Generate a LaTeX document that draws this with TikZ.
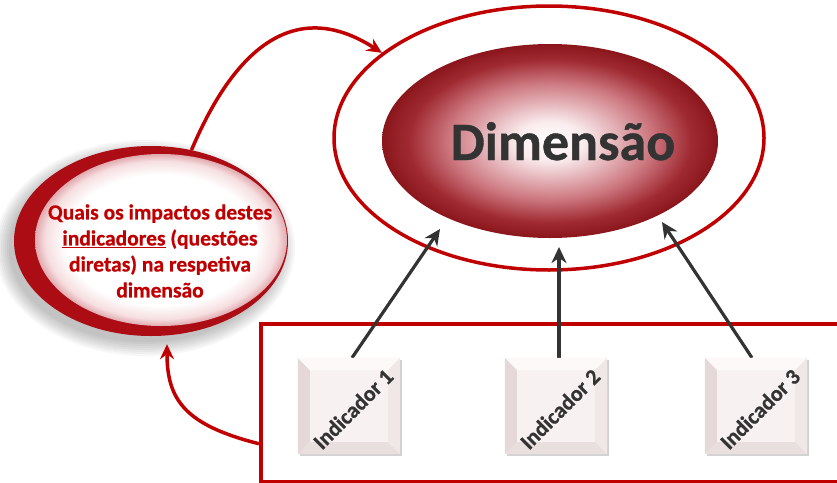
\documentclass[tikz,border=0pt]{standalone}
\usepackage{fontspec}
\setmainfont{Carlito}[BoldFeatures={FakeBold=0.7}]
\usetikzlibrary{shapes.geometric,arrows.meta,calc,shadows}
\definecolor{dred}{RGB}{192,0,0}
\definecolor{rimred}{RGB}{172,12,20}
\definecolor{dgrey}{RGB}{51,51,51}
\definecolor{sA}{RGB}{250,236,238}
\definecolor{sB}{RGB}{205,120,128}
\definecolor{sC}{RGB}{160,42,50}
\definecolor{sD}{RGB}{138,22,28}
\definecolor{qA}{RGB}{246,222,224}
\definecolor{qB}{RGB}{225,170,175}
\definecolor{bxC}{RGB}{248,241,241}
\definecolor{bxL}{RGB}{228,216,216}
\definecolor{bxT}{RGB}{253,249,249}
\definecolor{bxR}{RGB}{240,231,231}
\definecolor{bxB}{RGB}{234,223,223}
\pgfdeclareradialshading{dimshade}{\pgfpoint{0bp}{0bp}}{color(0bp)=(white); color(5bp)=(sA); color(15bp)=(sB); color(21bp)=(sC); color(25bp)=(sD); color(50bp)=(sD)}
\pgfdeclareradialshading{qshade}{\pgfpoint{0bp}{0bp}}{color(0bp)=(white); color(19bp)=(white); color(23bp)=(qA); color(25bp)=(qB); color(50bp)=(qB)}
\tikzset{
  ibox/.style={rectangle, fill=bxC, minimum width=102pt, minimum height=96pt, inner sep=0pt,
     drop shadow={shadow xshift=2pt, shadow yshift=-2pt, fill=black!35, opacity=0.5}},
  itext/.style={font=\fontsize{22}{24}\selectfont\bfseries, text=dgrey, rotate=45, inner sep=0pt},
  qtext/.style={align=center, font=\fontsize{21.5}{26}\selectfont\bfseries, text=dred, inner sep=0pt},
  garrow/.style={draw=dgrey, line width=3.2pt, -{Stealth[length=16pt,width=15pt,inset=5pt]}},
  rarrow/.style={draw=dred, line width=3.5pt, -{Stealth[length=15pt,width=14pt,inset=5pt]}},
}
\newcommand\mybevel[1]{%
  \fill[bxL] (#1.north west) -- ([shift={(12pt,-12pt)}]#1.north west) -- ([shift={(12pt,12pt)}]#1.south west) -- (#1.south west) -- cycle;
  \fill[bxT] (#1.north west) -- ([shift={(12pt,-12pt)}]#1.north west) -- ([shift={(-12pt,-12pt)}]#1.north east) -- (#1.north east) -- cycle;
  \fill[bxR] (#1.north east) -- ([shift={(-12pt,-12pt)}]#1.north east) -- ([shift={(-12pt,12pt)}]#1.south east) -- (#1.south east) -- cycle;
  \fill[bxB] (#1.south west) -- ([shift={(12pt,12pt)}]#1.south west) -- ([shift={(-12pt,12pt)}]#1.south east) -- (#1.south east) -- cycle;
}
\begin{document}
\begin{tikzpicture}[x=1pt,y=-1pt]
\useasboundingbox (0,0) rectangle (837,482);
\clip (0,0) rectangle (837,482);
\fill[white] (0,0) rectangle (837,482);

% shadow of the question ellipse
\foreach \i in {0,2,...,14}
  \fill[black,opacity=0.03] (145,248) ellipse [x radius=136+\i, y radius=94+\i];

% question ellipse
\fill[rimred] (151,241) ellipse [x radius=137, y radius=95];
\shade[shading=qshade] (161,240) ellipse [x radius=126, y radius=86];
\node[ellipse, minimum width=274pt, minimum height=190pt, inner sep=0pt] (q) at (151,241) {};
\node[qtext] (qt) at (160,251) {Quais os impactos destes\\\underline{indicadores} (questões\\diretas) na respetiva\\dimensão};

% outer ring and dimension
\node[ellipse, draw=dred, line width=3.5pt, minimum width=430pt, minimum height=264pt, inner sep=0pt] (outer) at (549,138) {};
\node[ellipse, shading=dimshade, minimum width=336pt, minimum height=194pt, inner sep=0pt] (dim) at (550,141) {};
\node[anchor=base, font=\fontsize{54}{60}\selectfont\bfseries, text=dgrey, inner sep=0pt] (dimt) at (563,160) {Dimensão};

% frame of the indicators
\node[draw=dred, line width=3.5pt, minimum width=620pt, minimum height=158pt, inner sep=0pt, anchor=north west] (frame) at (259,322) {};

% arrows from indicators
\coordinate (e1) at (440,229);
\coordinate (e2) at (559,247);
\coordinate (e3) at (662,222);
\node[ibox] (b1) at (349,406) {};
\node[ibox] (b2) at (556,406) {};
\node[ibox] (b3) at (756,406) {};
\draw[garrow] ([xshift=3pt]b1.north) -- (e1);
\draw[garrow] ([xshift=3pt]b2.north) -- (e2);
\draw[garrow] ([xshift=-4pt]b3.north) -- (e3);
\mybevel{b1}
\mybevel{b2}
\mybevel{b3}
\node[itext] (l1) at (353,409) {Indicador 1};
\node[itext] (l2) at (560,409) {Indicador 2};
\node[itext] (l3) at (760,409) {Indicador 3};

% red connectors
\draw[rarrow] (q.66) .. controls (238,40) and (300,0) .. (outer.153);
\draw[rarrow] ([yshift=-41pt]frame.west) .. controls (185,425) and (167,400) .. ([xshift=16pt,yshift=-8pt]q.south);
\end{tikzpicture}
\end{document}
